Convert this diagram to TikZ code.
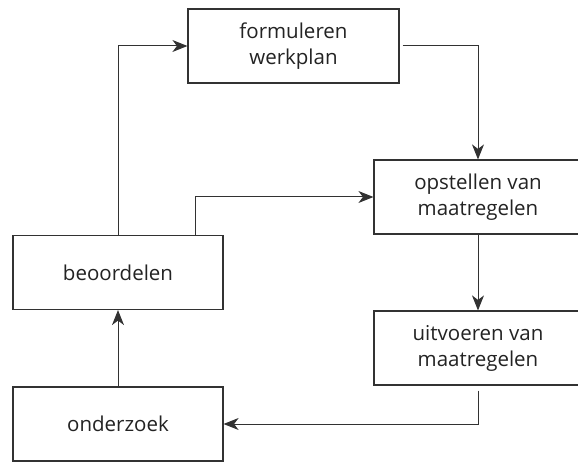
\documentclass[tikz,border=0pt]{standalone}
\usepackage{fontspec}
\setmainfont{Open Sans}
\usepackage{tikz}
\usetikzlibrary{arrows.meta, positioning}
\definecolor{lineink}{RGB}{50, 50, 50}
\definecolor{textink}{RGB}{35, 35, 35}
\tikzset{
    blk/.style ={draw=lineink, line width=1.2pt, fill=white,
                 minimum width=210pt, minimum height=74pt, inner sep=0pt,
                 align=center, text=textink,
                 font=\fontsize{20.5}{26}\selectfont},
    ar/.style  ={-{Stealth[length=15pt, width=12pt, inset=4.5pt]},
                 line width=1pt, draw=lineink}
}

\begin{document}
\begin{tikzpicture}[x=1pt, y=-1pt]
  \useasboundingbox (0,0) rectangle (578,462);

  \node[blk, minimum width=211pt] (plan)   at (293.5, 46)  {formuleren\\werkplan};
  \node[blk, minimum width=208pt] (opstel) at (478, 197)   {opstellen van\\maatregelen};
  \node[blk, minimum width=208pt] (uitvoer) at (478, 348)  {uitvoeren van\\maatregelen};
  \node[blk] (beoord) at (118, 272.5) {beoordelen};
  \node[blk] (onderz) at (118, 424)   {onderzoek};

  % second exit on top of beoordelen
  \coordinate (beoordr) at ([xshift=77pt]beoord.north);

  % the cycle
  \draw[ar] (beoord.north) |- (plan.west);
  \draw[ar, shorten <=3pt] (plan.east) -| (opstel.north);
  \draw[ar] (beoordr) |- (opstel.west);
  \draw[ar] (opstel.south) -- (uitvoer.north);
  \draw[ar, shorten <=5pt] (uitvoer.south) |- (onderz.east);
  \draw[ar] (onderz.north) -- (beoord.south);
\end{tikzpicture}
\end{document}
